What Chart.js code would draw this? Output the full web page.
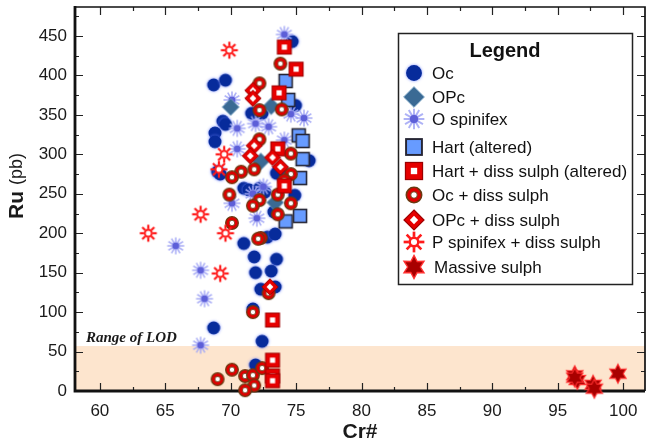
<!DOCTYPE html>
<html lang="en">
<head>
<meta charset="UTF-8" />
<title>Ru vs Cr#</title>
<style>
  html, body { margin: 0; padding: 0; background: #fff; }
  #wrap { width: 650px; height: 445px; position: relative; }
</style>
</head>
<body>
<div id="wrap"><canvas id="chart"></canvas></div>
<script src="https://cdn.jsdelivr.net/npm/chart.js"></script>
<script>
  // axis ticks
  const xTicks = [60, 65, 70, 75, 80, 85, 90, 95, 100];
  const yTicks = [0, 50, 100, 150, 200, 250, 300, 350, 400, 450];
  const lodLevel = 57;

  // [Cr#, Ru] pairs
  const ocPts = [
    [68.7, 388], [69.6, 394], [69.4, 342], [69.6, 338], [68.8, 327], [68.8, 316], [69.0, 278], [69.2, 275],
    [71.0, 257], [71.4, 255], [72.2, 257], [72.6, 252], [73.7, 280], [73.5, 276], [74.9, 248],
    [76.0, 292], [74.7, 443], [74.95, 362], [71.6, 352], [72.4, 352],
    [71.0, 187], [72.8, 195], [73.4, 199], [73.3, 227], [71.8, 170], [73.5, 167], [71.9, 150], [73.1, 152],
    [72.3, 129], [73.4, 132], [68.7, 80], [71.7, 104], [72.4, 63], [71.9, 33]
  ];
  const opcPts = [[70.0, 360], [73.1, 361], [72.3, 291], [73.4, 239]];
  const oSpinPts = [
    [74.1, 452], [70.1, 369], [74.6, 351], [75.6, 346], [70.5, 333], [71.9, 339], [72.9, 335], [70.5, 307],
    [74.1, 318], [71.7, 250], [72.5, 259], [70.1, 238], [72.0, 219], [65.8, 184], [67.7, 153], [68.0, 117],
    [67.7, 58]
  ];
  const hartPts = [[74.2, 393], [74.4, 369], [75.2, 324], [75.5, 317], [75.5, 294], [75.3, 270], [74.2, 215], [75.3, 222]];
  const hartSulphPts = [[74.1, 436], [75.0, 408], [73.7, 378], [73.6, 307], [74.1, 260], [73.2, 90], [73.2, 39], [73.2, 19], [73.2, 13]];
  const ocSulphPts = [
    [73.8, 415], [72.2, 390], [72.2, 356], [73.9, 357], [72.2, 319], [74.6, 301], [70.8, 278], [70.1, 271],
    [71.8, 281], [74.6, 275], [74.1, 267], [69.9, 249], [73.6, 249], [72.2, 242], [71.7, 235], [74.6, 238],
    [73.6, 224], [70.1, 213], [72.3, 194], [72.1, 193], [72.9, 124], [71.7, 100], [70.1, 27], [69.0, 15],
    [71.1, 19], [71.7, 20], [72.4, 29], [71.8, 7], [71.1, 1]
  ];
  const opcSulphPts = [[71.7, 381], [71.7, 371], [71.8, 311], [71.5, 298], [73.2, 296], [73.8, 284], [73.0, 132]];
  const pSpinPts = [[69.9, 432], [69.5, 300], [69.1, 281], [67.7, 224], [69.6, 200], [69.2, 149], [63.7, 200]];
  const massivePts = [[96.3, 20], [96.5, 14], [96.3, 17], [97.7, 8], [97.8, 3], [99.6, 22]];

  const FONT = '"Liberation Sans", Arial, sans-serif';

  function diamond(g, r) {
    g.beginPath();
    g.moveTo(0, -r); g.lineTo(r, 0); g.lineTo(0, r); g.lineTo(-r, 0);
    g.closePath();
  }

  // draw one marker kind into a small canvas, used as pointStyle
  function makeMarker(kind, s) {
    const size = Math.ceil(24 * s);
    const c = document.createElement('canvas');
    c.width = c.height = size;
    const g = c.getContext('2d');
    g.translate(size / 2, size / 2);
    g.scale(s, s);
    if (kind === 'oc') {
      g.shadowColor = 'rgba(110,130,255,0.9)';
      g.shadowBlur = 3;
      g.fillStyle = '#072b9b';
      g.beginPath(); g.arc(0, 0, 6.5, 0, Math.PI * 2); g.fill();
    } else if (kind === 'opc') {
      diamond(g, 8.5);
      g.fillStyle = '#3a6a94'; g.fill();
      g.strokeStyle = '#7aa3c4'; g.lineWidth = 0.8; g.stroke();
    } else if (kind === 'ospin') {
      g.strokeStyle = 'rgba(165,170,245,0.9)';
      g.lineWidth = 1.6;
      for (let i = 0; i < 12; i++) {
        const a = i * Math.PI / 6;
        g.beginPath(); g.moveTo(0, 0); g.lineTo(8.5 * Math.cos(a), 8.5 * Math.sin(a)); g.stroke();
      }
      g.shadowColor = 'rgba(120,120,240,0.8)';
      g.shadowBlur = 2;
      g.fillStyle = '#5d5fd8';
      g.beginPath(); g.arc(0, 0, 3.3, 0, Math.PI * 2); g.fill();
    } else if (kind === 'hart') {
      g.fillStyle = '#679bff';
      g.fillRect(-6.5, -6.5, 13, 13);
      g.strokeStyle = '#262635'; g.lineWidth = 1.6;
      g.strokeRect(-6.5, -6.5, 13, 13);
    } else if (kind === 'hartd') {
      g.fillStyle = '#e60000';
      g.fillRect(-7, -7, 14, 14);
      g.strokeStyle = '#9c0000'; g.lineWidth = 1;
      g.strokeRect(-7, -7, 14, 14);
      g.fillStyle = '#fff';
      g.fillRect(-2.6, -2.6, 5.2, 5.2);
    } else if (kind === 'ocd') {
      g.fillStyle = '#e00000';
      g.beginPath(); g.arc(0, 0, 6.3, 0, Math.PI * 2); g.fill();
      g.strokeStyle = '#6b3a12'; g.lineWidth = 1.3; g.stroke();
      g.fillStyle = '#fff';
      g.beginPath(); g.arc(0, 0, 2.7, 0, Math.PI * 2); g.fill();
      g.lineWidth = 0.8; g.stroke();
    } else if (kind === 'opcd') {
      diamond(g, 8.2);
      g.fillStyle = '#e60000'; g.fill();
      g.strokeStyle = '#a00000'; g.lineWidth = 1; g.stroke();
      diamond(g, 3.4);
      g.fillStyle = '#fff'; g.fill();
    } else if (kind === 'pspin') {
      g.strokeStyle = '#ff1a1a';
      g.lineWidth = 2.2;
      for (let i = 0; i < 8; i++) {
        const a = i * Math.PI / 4;
        g.beginPath();
        g.moveTo(4.2 * Math.cos(a), 4.2 * Math.sin(a));
        g.lineTo(8.5 * Math.cos(a), 8.5 * Math.sin(a));
        g.stroke();
      }
      g.lineWidth = 2;
      g.fillStyle = '#fff';
      g.beginPath(); g.arc(0, 0, 3.5, 0, Math.PI * 2); g.fill(); g.stroke();
    } else if (kind === 'mass') {
      g.beginPath();
      for (let i = 0; i < 12; i++) {
        const a = -Math.PI / 2 + i * Math.PI / 6;
        const r = i % 2 === 0 ? 9.5 : 5.2;
        g.lineTo(r * Math.cos(a), r * Math.sin(a));
      }
      g.closePath();
      g.fillStyle = '#a80000'; g.fill();
      g.strokeStyle = '#ff3030'; g.lineWidth = 1.1; g.stroke();
    }
    return c;
  }

  const series = [
    { label: 'Oc', kind: 'oc', pts: ocPts, order: 9 },
    { label: 'OPc', kind: 'opc', pts: opcPts, order: 7 },
    { label: 'O spinifex', kind: 'ospin', pts: oSpinPts, order: 8 },
    { label: 'Hart (altered)', kind: 'hart', pts: hartPts, order: 6 },
    { label: 'Hart + diss sulph (altered)', kind: 'hartd', pts: hartSulphPts, order: 4 },
    { label: 'Oc + diss sulph', kind: 'ocd', pts: ocSulphPts, order: 5 },
    { label: 'OPc + diss sulph', kind: 'opcd', pts: opcSulphPts, order: 3 },
    { label: 'P spinifex + diss sulph', kind: 'pspin', pts: pSpinPts, order: 2 },
    { label: 'Massive sulph', kind: 'mass', pts: massivePts, order: 1 }
  ];
  const legendY = [73, 97, 119, 147, 171, 195, 220, 242, 267];

  // LOD band, frame and inward ticks, drawn under the points
  const framePlugin = {
    id: 'frame',
    beforeDatasetsDraw(chart) {
      const { ctx, chartArea: a, scales: { x, y } } = chart;
      ctx.save();
      const yl = y.getPixelForValue(lodLevel);
      ctx.fillStyle = '#fde5ce';
      ctx.fillRect(a.left, yl, a.right - a.left, a.bottom - yl);

      ctx.fillStyle = '#1a1a1a';
      ctx.font = 'italic bold 15px "Liberation Serif", "Times New Roman", serif';
      ctx.textBaseline = 'alphabetic';
      ctx.fillText('Range of LOD', a.left + 11, yl - 4);

      ctx.strokeStyle = '#222';
      ctx.lineWidth = 1.2;
      ctx.beginPath();
      for (let v = 57.5; v <= 101.7; v += 2.5) {
        if (v < x.min) continue;
        const px = Math.round(x.getPixelForValue(v)) + 0.5;
        const len = v % 5 === 0 ? 8 : 4;
        ctx.moveTo(px, a.bottom); ctx.lineTo(px, a.bottom - len);
        ctx.moveTo(px, a.top); ctx.lineTo(px, a.top + len);
      }
      for (let v = 0; v <= y.max; v += 25) {
        const py = Math.round(y.getPixelForValue(v)) + 0.5;
        const len = v % 50 === 0 ? 8 : 4;
        ctx.moveTo(a.left, py); ctx.lineTo(a.left + len, py);
        ctx.moveTo(a.right, py); ctx.lineTo(a.right - len, py);
      }
      ctx.stroke();

      ctx.strokeStyle = '#111';
      ctx.lineWidth = 1.7;
      ctx.beginPath();
      ctx.moveTo(a.left, a.top); ctx.lineTo(a.right, a.top); ctx.lineTo(a.right, a.bottom);
      ctx.stroke();
      ctx.lineWidth = 2.8;
      ctx.beginPath();
      ctx.moveTo(a.left, a.top - 1); ctx.lineTo(a.left, a.bottom); ctx.lineTo(a.right, a.bottom);
      ctx.stroke();
      ctx.restore();
    },
    afterDraw(chart) {
      const { ctx } = chart;
      ctx.save();
      // y title with bold symbol and plain unit
      ctx.translate(17, 186);
      ctx.rotate(-Math.PI / 2);
      ctx.textBaseline = 'middle';
      ctx.fillStyle = '#1a1a1a';
      const boldF = 'bold 21px ' + FONT, normF = '18px ' + FONT;
      ctx.font = boldF;
      const w1 = ctx.measureText('Ru ').width;
      ctx.font = normF;
      const w2 = ctx.measureText('(pb)').width;
      let sx = -(w1 + w2) / 2;
      ctx.font = boldF; ctx.fillText('Ru ', sx, 0);
      ctx.font = normF; ctx.fillText('(pb)', sx + w1, 0);
      ctx.restore();

      // legend box
      ctx.save();
      ctx.fillStyle = '#fff';
      ctx.fillRect(398, 33, 235, 252);
      ctx.strokeStyle = '#222';
      ctx.lineWidth = 1.5;
      ctx.strokeRect(398.5, 33.5, 234, 251);
      ctx.fillStyle = '#111';
      ctx.textAlign = 'center';
      ctx.textBaseline = 'middle';
      ctx.font = 'bold 20px ' + FONT;
      ctx.fillText('Legend', 505, 51);
      ctx.textAlign = 'left';
      ctx.font = '17px ' + FONT;
      series.forEach((s, i) => {
        const m = legendMarkers[i];
        ctx.drawImage(m, 414 - m.width / 2, legendY[i] - m.height / 2);
        ctx.fillText(s.label, s.kind === 'mass' ? 434 : 432, legendY[i] + 1);
      });
      ctx.restore();
    }
  };

  const legendMarkers = series.map(s => makeMarker(s.kind, 1.22));

  const datasets = series.map(s => ({
    label: s.label,
    data: s.pts.map(p => ({ x: p[0], y: p[1] })),
    pointStyle: makeMarker(s.kind, 1),
    order: s.order,
    clip: false
  }));

  // drop the label overhang padding Chart.js adds, so the plot box is fixed
  function noPad(sc) {
    sc.paddingTop = 0; sc.paddingBottom = 0; sc.paddingLeft = 0; sc.paddingRight = 0;
  }

  new Chart(document.getElementById('chart'), {
    type: 'scatter',
    data: { datasets },
    options: {
      responsive: true,
      maintainAspectRatio: false,
      animation: false,
      events: [],
      layout: { padding: { top: 7, right: 2, left: 0, bottom: 0 } },
      plugins: { legend: { display: false }, tooltip: { enabled: false } },
      scales: {
        x: {
          type: 'linear',
          min: 58.1,
          max: 101.67,
          afterBuildTicks: sc => { sc.ticks = xTicks.map(v => ({ value: v })); },
          afterFit: sc => { sc.height = 54; noPad(sc); },
          grid: { display: false, drawTicks: false },
          border: { display: false },
          ticks: { padding: 10, color: '#1a1a1a', font: { family: FONT, size: 17 }, maxRotation: 0 },
          title: { display: true, text: 'Cr#', color: '#1a1a1a', padding: { top: 0, bottom: 0 },
                   font: { family: FONT, size: 21, weight: 'bold', lineHeight: 1.2 } }
        },
        y: {
          type: 'linear',
          min: 0,
          max: 486.8,
          afterBuildTicks: sc => { sc.ticks = yTicks.map(v => ({ value: v })); },
          afterFit: sc => { sc.width = 75; noPad(sc); },
          grid: { display: false, drawTicks: false },
          border: { display: false },
          ticks: { padding: 8, color: '#1a1a1a', font: { family: FONT, size: 17 } }
        }
      }
    },
    plugins: [framePlugin]
  });
</script>
</body>
</html>
